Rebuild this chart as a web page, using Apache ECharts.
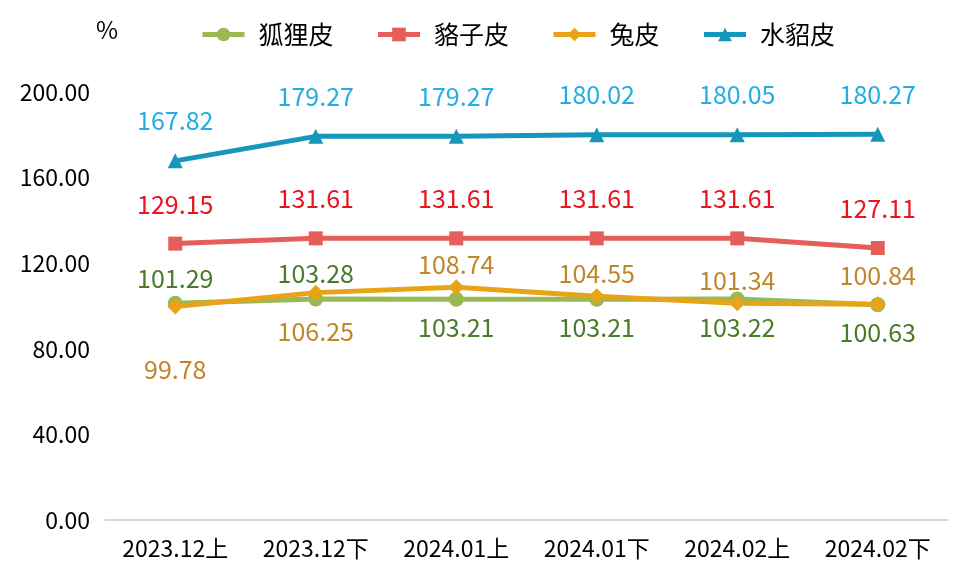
<!DOCTYPE html>
<html>
<head>
<meta charset="utf-8">
<script src="https://cdn.jsdelivr.net/npm/echarts@6/dist/echarts.min.js"></script>
<style>
  html, body { margin: 0; padding: 0; background: #fff; }
  #main { width: 969px; height: 581px; }
</style>
</head>
<body>
<div id="main"></div>
<script>
// 数据
var categories = ["2023.12上", "2023.12下", "2024.01上", "2024.01下", "2024.02上", "2024.02下"];
var foxData   = [101.29, 103.28, 103.21, 103.21, 103.22, 100.63];
var raccoonData = [129.15, 131.61, 131.61, 131.61, 131.61, 127.11];
var rabbitData = [99.78, 106.25, 108.74, 104.55, 101.34, 100.84];
var minkData  = [167.82, 179.27, 179.27, 180.02, 180.05, 180.27];
var yTicks = [0, 40, 80, 120, 160, 200];

// 标签位置 (上/下) 和距离
var foxLabelPos = ["top", "top", "bottom", "bottom", "bottom", "bottom"];
var foxLabelDist = [5, 5, 8, 8, 8, 8];
var rabbitLabelPos = ["bottom", "bottom", "top", "top", "top", "top"];
var rabbitLabelDist = [43, 18, 2, 2, 2, 8];

function withLabels(values, pos, dist) {
  return values.map(function (v, i) {
    return { value: v, label: { position: pos[i], distance: dist[i] } };
  });
}

var myChart = echarts.init(document.getElementById("main"));
var font = "'Noto Sans CJK SC', 'Microsoft YaHei', sans-serif";
var fmt = function (p) { return p.value.toFixed(2); };

var option = {
  textStyle: { fontFamily: font },
  animation: false,
  legend: {
    top: 17,
    left: 195,
    itemGap: 42,
    itemWidth: 42,
    itemHeight: 17,
    lineStyle: { width: 5 },
    textStyle: { fontSize: 25, color: "#000", fontFamily: font, padding: [0, 0, 0, 9] },
    data: ["狐狸皮", "貉子皮", "兔皮", "水貂皮"]
  },
  graphic: [{
    type: "text",
    left: 96,
    top: 18,
    style: { text: "%", fontSize: 24, fill: "#000", fontFamily: font }
  }],
  grid: {
    left: 105,
    right: 21,
    top: 92,
    bottom: 61
  },
  xAxis: {
    type: "category",
    data: categories,
    boundaryGap: true,
    axisLine: { lineStyle: { color: "#d9d9d9", width: 2 } },
    axisTick: { show: false },
    axisLabel: { fontSize: 23, color: "#000", margin: 17, fontFamily: font }
  },
  yAxis: {
    type: "value",
    min: yTicks[0],
    max: yTicks[yTicks.length - 1],
    interval: 40,
    splitLine: { show: false },
    axisLine: { show: false },
    axisTick: { show: false },
    axisLabel: {
      fontSize: 23,
      color: "#000",
      margin: 15,
      fontFamily: font,
      formatter: function (v) { return v.toFixed(2); }
    }
  },
  series: [
    {
      name: "狐狸皮",
      type: "line",
      data: withLabels(foxData, foxLabelPos, foxLabelDist),
      symbol: "circle",
      symbolSize: 15,
      z: 2,
      itemStyle: { color: "#98B954" },
      lineStyle: { width: 5, color: "#98B954" },
      label: { show: true, fontSize: 25, color: "#4A7A2A", fontFamily: font, formatter: fmt }
    },
    {
      name: "貉子皮",
      type: "line",
      data: raccoonData,
      symbol: "rect",
      symbolSize: 14,
      itemStyle: { color: "#E55E5A" },
      lineStyle: { width: 5, color: "#E55E5A" },
      label: { show: true, position: "top", distance: 20, fontSize: 25, color: "#E8141E", fontFamily: font, formatter: fmt }
    },
    {
      name: "兔皮",
      type: "line",
      data: withLabels(rabbitData, rabbitLabelPos, rabbitLabelDist),
      symbol: "diamond",
      symbolSize: 16,
      z: 3,
      itemStyle: { color: "#E8A317" },
      lineStyle: { width: 5, color: "#E8A317" },
      label: { show: true, fontSize: 25, color: "#C0862A", fontFamily: font, formatter: fmt }
    },
    {
      name: "水貂皮",
      type: "line",
      data: minkData,
      symbol: "triangle",
      symbolSize: 15,
      itemStyle: { color: "#1696BA" },
      lineStyle: { width: 5, color: "#1696BA" },
      label: { show: true, position: "top", distance: 20, fontSize: 25, color: "#22AEE5", fontFamily: font, formatter: fmt }
    }
  ]
};

myChart.setOption(option);
</script>
</body>
</html>
